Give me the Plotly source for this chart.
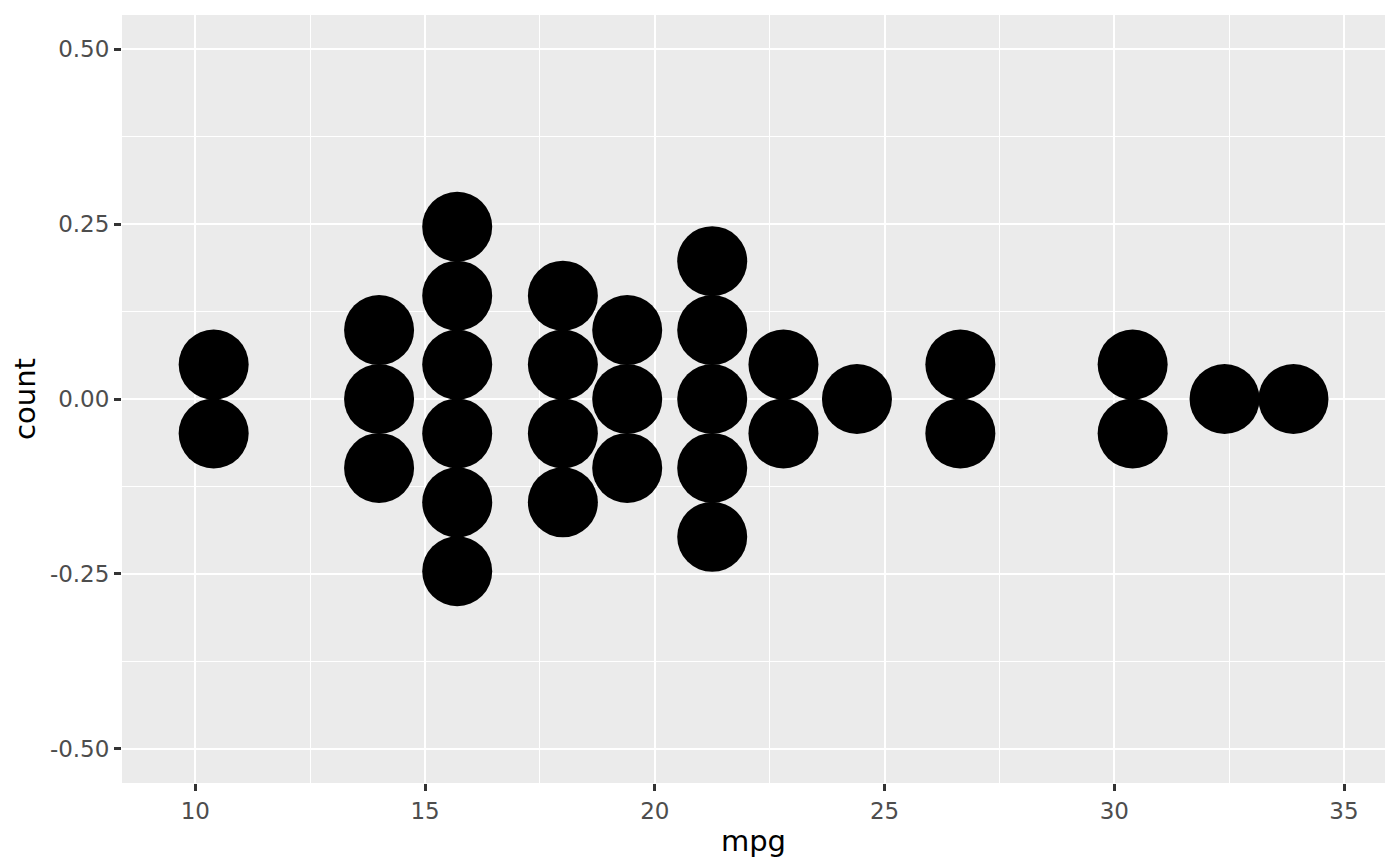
import plotly.graph_objects as go

# bin centres (mpg) and number of cars stacked in each bin
mpg_bins = [10.4, 14.0, 15.7, 18.0, 19.4, 21.25, 22.8, 24.4, 26.65, 30.4, 32.4, 33.9]
bin_counts = [2, 3, 6, 4, 3, 5, 2, 1, 2, 2, 1, 1]

y_tickvals = [-0.5, -0.25, 0, 0.25, 0.5]
y_ticktext = ["-0.50", "-0.25", "0.00", "0.25", "0.50"]
x_tickvals = [10, 15, 20, 25, 30, 35]

STACK_STEP = 0.0985  # vertical distance between stacked dots, in y units

# centred stacks (stackdir = "center")
xs = []
ys = []
for x, n in zip(mpg_bins, bin_counts):
    for i in range(n):
        xs.append(x)
        ys.append((i - (n - 1) / 2) * STACK_STEP)

fig = go.Figure()
fig.add_trace(go.Scatter(
    x=xs, y=ys, mode="markers",
    marker=dict(size=70, color="black", line=dict(width=0)),
    hoverinfo="x", showlegend=False,
))

tick_font = dict(family="DejaVu Sans", size=23, color="#4D4D4D")
title_font = dict(family="DejaVu Sans", size=29, color="black")

# page body has an 8px margin, so the figure is made 8px smaller
fig.update_layout(
    width=1392, height=858,
    margin=dict(l=114, r=15, t=7, b=83),
    paper_bgcolor="white",
    plot_bgcolor="#EBEBEB",
    xaxis=dict(
        range=[8.405, 35.892],
        tickvals=x_tickvals,
        ticks="outside", ticklen=7, tickwidth=2.5, tickcolor="#333333",
        tickfont=tick_font,
        showgrid=True, gridcolor="white", gridwidth=2.2,
        minor=dict(showgrid=True, gridcolor="white", gridwidth=1.1,
                   tick0=0, dtick=2.5),
        zeroline=False, showline=False,
        title=dict(text="mpg", font=title_font, standoff=8),
    ),
    yaxis=dict(
        range=[-0.549, 0.549],
        tickvals=y_tickvals, ticktext=y_ticktext,
        ticks="outside", ticklen=7, tickwidth=2.5, tickcolor="#333333",
        tickfont=tick_font,
        showgrid=True, gridcolor="white", gridwidth=2.2,
        minor=dict(showgrid=True, gridcolor="white", gridwidth=1.1,
                   tick0=0, dtick=0.125),
        zeroline=False, showline=False,
        title=dict(text="count", font=title_font, standoff=10),
    ),
)

fig.write_html("out.html")
